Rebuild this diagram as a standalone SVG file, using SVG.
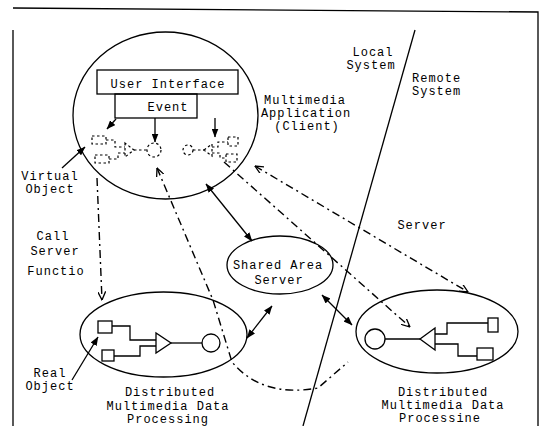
<svg xmlns="http://www.w3.org/2000/svg" width="543" height="426" viewBox="0 0 543 426">
<style>
.t{font-family:"Liberation Mono","DejaVu Sans Mono",monospace;font-size:12px;letter-spacing:1px;fill:#000}
.m{text-anchor:middle}
.s{fill:none;stroke:#000;stroke-width:1.3}
.dd{fill:none;stroke:#000;stroke-width:1.4;stroke-dasharray:8 4 2 4}
.v{fill:none;stroke:#000;stroke-width:1.2;stroke-dasharray:2.5 2.5}
</style>
<defs>
<marker id="af" viewBox="0 0 9 7" refX="8.5" refY="3.5" markerWidth="9" markerHeight="7" markerUnits="userSpaceOnUse" orient="auto-start-reverse"><path d="M0,0 L9,3.5 L0,7 z" fill="#000"/></marker>
<marker id="ao" viewBox="0 0 9 8" refX="8.5" refY="4" markerWidth="9" markerHeight="8" markerUnits="userSpaceOnUse" orient="auto-start-reverse"><path d="M0,0 L8.5,4 L0,8" fill="none" stroke="#000" stroke-width="1.3"/></marker>
</defs>
<rect x="0" y="0" width="543" height="426" fill="#fff"/>
<g id="frame"><path class="s" d="M13,30 L13,426 M13,8 L538,12 L538,426" stroke-width="1.6"/></g>
<g id="divider"><line class="s" x1="415" y1="30" x2="303" y2="426"/></g>

<g id="client">
<ellipse class="s" cx="165.5" cy="115.5" rx="92.5" ry="83.5"/>
<text class="t m" x="305" y="104">Multimedia</text>
<text class="t m" x="306" y="117">Application</text>
<text class="t m" x="307" y="130">(Client)</text>
</g>
<g id="ui"><rect class="s" x="97" y="70" width="141" height="24"/><text class="t m" x="168" y="88">User Interface</text></g>
<g id="event"><rect class="s" x="115" y="94" width="82" height="24"/><text class="t m" x="168" y="111">Event</text></g>
<g id="virtual-left">
<rect class="v" x="92" y="136" width="14" height="8"/>
<polyline class="v" points="106,140 115,140 115,147 125,147"/>
<rect class="v" x="95" y="155" width="14" height="8"/>
<polyline class="v" points="109,159 118,159 118,153 125,153"/>
<polygon class="v" points="125,143 125,157 134,150"/>
<line class="v" x1="134" y1="150" x2="147" y2="150"/>
<circle class="v" cx="154" cy="150" r="7"/>
</g>
<g id="virtual-right">
<circle class="v" cx="188" cy="150" r="5"/>
<line class="v" x1="193" y1="150" x2="204" y2="150"/>
<polygon class="v" points="204,150 212,144 212,156"/>
<polyline class="v" points="212,147 218,147 218,142 228,142"/>
<rect class="v" x="228" y="137" width="10" height="9"/>
<polyline class="v" points="212,153 220,153 220,158 226,158"/>
<rect class="v" x="226" y="154" width="11" height="8"/>
</g>
<g id="label-virtual"><text class="t m" x="50" y="180">Virtual</text><text class="t m" x="50" y="193">Object</text></g>
<g id="label-call"><text class="t m" x="53" y="240">Call</text><text class="t m" x="55" y="255">Server</text><text class="t m" x="56" y="275">Functio</text></g>
<g id="label-local"><text class="t m" x="373" y="56">Local</text><text class="t m" x="371" y="69">System</text></g>
<g id="label-remote"><text class="t" x="412" y="82">Remote</text><text class="t" x="412" y="95">System</text></g>
<g id="label-server"><text class="t m" x="422" y="229">Server</text></g>

<g id="shared">
<ellipse class="s" cx="280" cy="265" rx="53" ry="29"/>
<text class="t m" x="278" y="269">Shared Area</text>
<text class="t m" x="279" y="284">Server</text>
</g>

<g id="dmdp-left">
<ellipse class="s" cx="163.5" cy="334.5" rx="83.5" ry="42.5"/>
<rect class="s" x="98" y="321" width="14" height="12"/>
<rect class="s" x="102" y="350" width="12" height="11"/>
<polyline class="s" points="112,326 130,326 130,340 156,340"/>
<polyline class="s" points="114,356 140,356 140,346 156,346"/>
<polygon class="s" points="156,333 156,353 171,343"/>
<line class="s" x1="171" y1="343" x2="202" y2="343"/>
<circle class="s" cx="211" cy="343" r="9"/>
<text class="t m" x="170" y="396">Distributed</text>
<text class="t m" x="168" y="410">Multimedia Data</text>
<text class="t m" x="168" y="423">Processing</text>
</g>
<g id="label-real"><text class="t m" x="50" y="377">Real</text><text class="t m" x="50" y="390">Object</text></g>

<g id="dmdp-right">
<ellipse class="s" cx="437" cy="331.5" rx="81" ry="41.5"/>
<circle class="s" cx="375" cy="339" r="10"/>
<line class="s" x1="385" y1="339" x2="420" y2="339"/>
<polygon class="s" points="420,339 435,328 435,350"/>
<polyline class="s" points="435,334 447,334 447,323 488,323"/>
<rect class="s" x="488" y="318" width="10" height="14"/>
<polyline class="s" points="435,344 458,344 458,356 477,356"/>
<rect class="s" x="477" y="348" width="16" height="12"/>
<text class="t m" x="443" y="396">Distributed</text>
<text class="t m" x="443" y="409">Multimedia Data</text>
<text class="t m" x="440" y="422">Processine</text>
</g>

<g id="connectors">
<line class="s" x1="116" y1="119" x2="107" y2="129" marker-end="url(#af)"/>
<line class="s" x1="155" y1="118" x2="155" y2="142" marker-end="url(#af)"/>
<line class="s" x1="215" y1="118" x2="215" y2="137" marker-end="url(#af)"/>
<line class="s" x1="62" y1="168" x2="85" y2="147" marker-end="url(#af)"/>
<line class="s" x1="72" y1="380" x2="98" y2="337" marker-end="url(#af)"/>
<line class="s" x1="206" y1="184" x2="252" y2="241" marker-start="url(#af)" marker-end="url(#af)"/>
<line class="s" x1="272" y1="306" x2="247" y2="338" marker-start="url(#af)" marker-end="url(#af)"/>
<line class="s" x1="322" y1="295" x2="352" y2="325" marker-start="url(#af)" marker-end="url(#af)"/>
<path class="dd" d="M97,178 L102,300" marker-end="url(#ao)"/>
<path class="dd" d="M255,166 L468,292" marker-start="url(#ao)" marker-end="url(#ao)"/>
<path class="dd" d="M224,162 L410,327" marker-end="url(#ao)"/>
<path class="dd" d="M157,168 L213,300 L232,362 Q262,398 318,388 L348,362" marker-start="url(#ao)"/>
</g>
</svg>
